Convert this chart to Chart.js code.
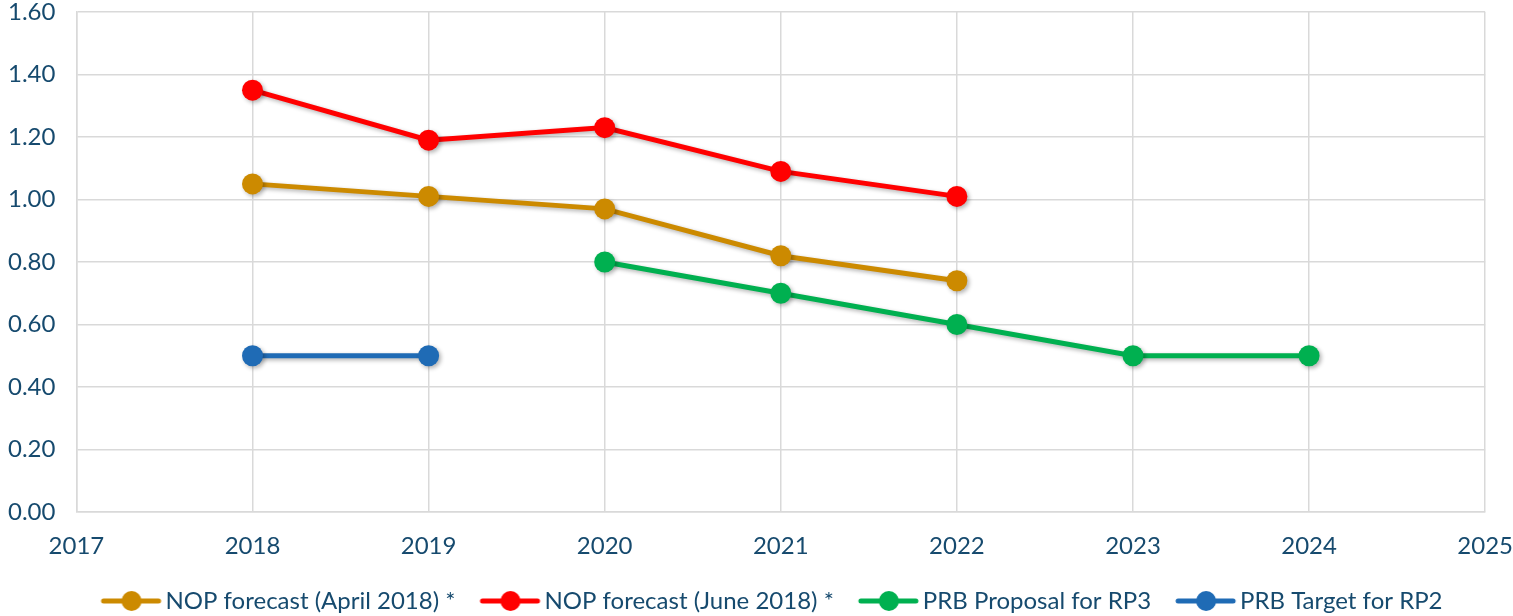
<!DOCTYPE html>
<html>
<head>
<meta charset="utf-8">
<script src="https://cdn.jsdelivr.net/npm/chart.js@4/dist/chart.umd.min.js"></script>
<style>
  body { margin: 0; background: #fff; }
  #wrap { width: 1513px; height: 616px; }
</style>
</head>
<body>
<div id="wrap"><canvas id="chart" width="1513" height="616"></canvas></div>
<script>
// Chart data
const years = ['2017', '2018', '2019', '2020', '2021', '2022', '2023', '2024', '2025'];
const nopApril = [null, 1.05, 1.01, 0.97, 0.82, 0.74, null, null, null];
const nopJune = [null, 1.35, 1.19, 1.23, 1.09, 1.01, null, null, null];
const prbRP3 = [null, null, null, 0.80, 0.70, 0.60, 0.50, 0.50, null];
const prbRP2 = [null, 0.50, 0.50, null, null, null, null, null, null];
const yTicks = [0, 0.2, 0.4, 0.6, 0.8, 1.0, 1.2, 1.4, 1.6];

const textColor = '#164a6e';
const gridColor = '#d9d9d9';
const font = { family: 'Lato, "Open Sans", sans-serif', size: 24, lineHeight: 1.0 };
const legendFont = { family: 'Lato, "Open Sans", sans-serif', size: 24 };

// legend marker: short line with a dot, pushed to the right of the canvas
// so there is a wider gap after the previous legend text
function legendMarker(color) {
    const c = document.createElement('canvas');
    c.width = 85;
    c.height = 24;
    const g = c.getContext('2d');
    const x0 = c.width - 62;
    g.strokeStyle = color;
    g.lineWidth = 5;
    g.lineCap = 'round';
    g.beginPath();
    g.moveTo(x0 + 3, 12);
    g.lineTo(x0 + 58, 12);
    g.stroke();
    g.fillStyle = color;
    g.beginPath();
    g.arc(x0 + 31, 12, 10, 0, Math.PI * 2);
    g.fill();
    return c;
}

function series(label, data, color) {
    return {
        label: label,
        data: data,
        borderColor: color,
        backgroundColor: color,
        borderWidth: 5,
        pointRadius: 10.5,
        pointHoverRadius: 10.5,
        pointBorderWidth: 0,
        spanGaps: false,
        tension: 0,
        marker: legendMarker(color)
    };
}

// soft drop shadow like the original
const shadowPlugin = {
    id: 'shadow',
    beforeDatasetsDraw(chart) {
        const c = chart.ctx;
        c.save();
        c.shadowColor = 'rgba(0,0,0,0.3)';
        c.shadowBlur = 4;
        c.shadowOffsetX = 2;
        c.shadowOffsetY = 2;
    },
    afterDatasetsDraw(chart) {
        chart.ctx.restore();
    }
};

// nudge the legend a bit right, the original is centred under the plot
const legendShift = {
    id: 'legendShift',
    afterLayout(chart) {
        chart.legend.left += 8;
        chart.legend.right += 8;
    }
};

new Chart(document.getElementById('chart'), {
    type: 'line',
    data: {
        labels: years,
        datasets: [
            series('NOP forecast (April 2018) *', nopApril, '#cc8a00'),
            series('NOP forecast (June 2018) *', nopJune, '#ff0000'),
            series('PRB Proposal for RP3', prbRP3, '#00b050'),
            series('PRB Target for RP2', prbRP2, '#1f6bb5')
        ]
    },
    options: {
        responsive: false,
        animation: false,
        layout: { autoPadding: false, padding: { top: 0, left: 0, right: 0, bottom: -7 } },
        scales: {
            x: {
                offset: false,
                // transparent tick marks give the label gap without extra edge padding
                grid: { color: gridColor, lineWidth: 1.5, drawTicks: true, tickLength: 22, tickColor: 'rgba(0,0,0,0)' },
                border: { color: gridColor, width: 1.5 },
                ticks: { color: textColor, font: font, padding: 0, maxRotation: 0 },
                afterFit(axis) { axis.height += 21; }
            },
            y: {
                min: 0,
                max: 1.6,
                afterBuildTicks(axis) {
                    axis.ticks = yTicks.map(v => ({ value: v }));
                },
                grid: { color: gridColor, lineWidth: 1.5, drawTicks: true, tickLength: 21, tickColor: 'rgba(0,0,0,0)' },
                border: { color: gridColor, width: 1.5 },
                ticks: {
                    color: textColor,
                    font: font,
                    padding: 0,
                    callback: v => v.toFixed(2)
                },
                afterFit(axis) { axis.width += 8; }
            }
        },
        plugins: {
            legend: {
                position: 'bottom',
                labels: {
                    color: textColor,
                    font: legendFont,
                    usePointStyle: true,
                    pointStyleWidth: 67,
                    padding: 10,
                    generateLabels(chart) {
                        return chart.data.datasets.map((ds, i) => ({
                            text: ds.label,
                            pointStyle: ds.marker,
                            fontColor: textColor,
                            lineWidth: 0,
                            datasetIndex: i
                        }));
                    }
                }
            },
            tooltip: { enabled: false }
        }
    },
    plugins: [shadowPlugin, legendShift]
});
</script>
</body>
</html>
